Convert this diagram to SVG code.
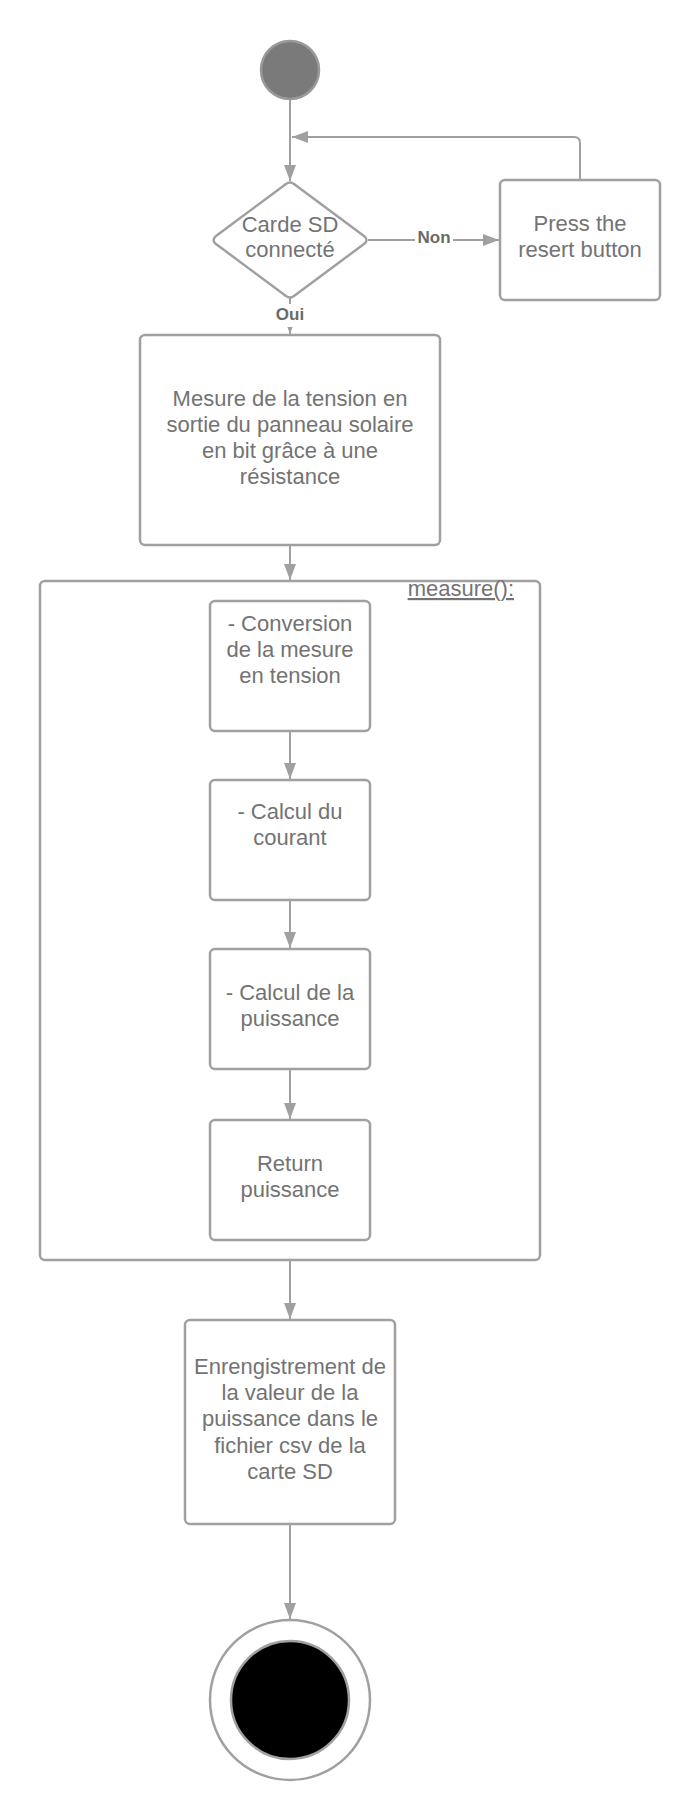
<svg xmlns="http://www.w3.org/2000/svg" width="700" height="1820" viewBox="0 0 700 1820">
<style>
.shape{fill:#ffffff;stroke:#a0a0a0;stroke-width:2.5}
.conn{fill:none;stroke:#a0a0a0;stroke-width:2}
.t{font-family:"Liberation Sans",Arial,sans-serif;font-size:22px;fill:#737373;text-anchor:middle}
.lbl{font-family:"Liberation Sans",Arial,sans-serif;font-size:17px;font-weight:bold;fill:#6a6a6a;text-anchor:middle}
.mask{fill:#ffffff;stroke:none}
</style>
<defs>
<marker id="arr" markerUnits="userSpaceOnUse" markerWidth="16" markerHeight="12" refX="16" refY="6" orient="auto">
<path d="M0,0 L16,6 L0,12 z" fill="#a0a0a0"/>
</marker>
</defs>
<rect width="700" height="1820" fill="#ffffff"/>

<g id="container">
<rect class="shape" x="40" y="581" width="500" height="679" rx="5"/>
<text class="t" x="514" y="596" style="text-anchor:end;text-decoration:underline">measure():</text>
</g>

<g id="connectors">
<path class="conn" d="M290,100 V181" marker-end="url(#arr)"/>
<path class="conn" d="M368,240 H499" marker-end="url(#arr)"/>
<path class="conn" d="M580,180 V143 Q580,137 574,137 H292" marker-end="url(#arr)"/>
<path class="conn" d="M290,298 V334" marker-end="url(#arr)"/>
<path class="conn" d="M290,545 V580" marker-end="url(#arr)"/>
<path class="conn" d="M290,731 V779" marker-end="url(#arr)"/>
<path class="conn" d="M290,900 V948" marker-end="url(#arr)"/>
<path class="conn" d="M290,1069 V1119" marker-end="url(#arr)"/>
<path class="conn" d="M290,1260 V1319" marker-end="url(#arr)"/>
<path class="conn" d="M290,1524 V1619" marker-end="url(#arr)"/>
<rect class="mask" x="415" y="228" width="38" height="22"/>
<text class="lbl" x="434" y="243">Non</text>
<rect class="mask" x="274" y="304" width="32" height="23"/>
<text class="lbl" x="290" y="320">Oui</text>
</g>

<g id="start">
<circle cx="290" cy="70" r="29" fill="#7a7a7a" stroke="#999999" stroke-width="2.5"/>
</g>

<g id="decision">
<path class="shape" d="M286,184 Q290,181 294,184 L364,236 Q369,240 364,244 L294,296 Q290,299 286,296 L216,244 Q211,240 216,236 Z"/>
<text class="t" x="290" y="232">Carde SD</text>
<text class="t" x="290" y="257">connecté</text>
</g>

<g id="reset">
<rect class="shape" x="500" y="180" width="160" height="120" rx="5"/>
<text class="t" x="580" y="231">Press the</text>
<text class="t" x="580" y="257">resert button</text>
</g>

<g id="mesure">
<rect class="shape" x="140" y="335" width="300" height="210" rx="5"/>
<text class="t" x="290" y="406">Mesure de la tension en</text>
<text class="t" x="290" y="432">sortie du panneau solaire</text>
<text class="t" x="290" y="458">en bit grâce à une</text>
<text class="t" x="290" y="484">résistance</text>
</g>

<g id="conversion">
<rect class="shape" x="210" y="601" width="160" height="130" rx="5"/>
<text class="t" x="290" y="631">- Conversion</text>
<text class="t" x="290" y="657">de la mesure</text>
<text class="t" x="290" y="683">en tension</text>
</g>

<g id="courant">
<rect class="shape" x="210" y="780" width="160" height="120" rx="5"/>
<text class="t" x="290" y="819">- Calcul du</text>
<text class="t" x="290" y="845">courant</text>
</g>

<g id="puissance">
<rect class="shape" x="210" y="949" width="160" height="120" rx="5"/>
<text class="t" x="290" y="1000">- Calcul de la</text>
<text class="t" x="290" y="1026">puissance</text>
</g>

<g id="return">
<rect class="shape" x="210" y="1120" width="160" height="120" rx="5"/>
<text class="t" x="290" y="1171">Return</text>
<text class="t" x="290" y="1197">puissance</text>
</g>

<g id="enregistrement">
<rect class="shape" x="185" y="1320" width="210" height="204" rx="5"/>
<text class="t" x="290" y="1374">Enrengistrement de</text>
<text class="t" x="290" y="1400">la valeur de la</text>
<text class="t" x="290" y="1426">puissance dans le</text>
<text class="t" x="290" y="1453">fichier csv de la</text>
<text class="t" x="290" y="1479">carte SD</text>
</g>

<g id="end">
<circle cx="290" cy="1700" r="80" fill="#ffffff" stroke="#a0a0a0" stroke-width="2.5"/>
<circle cx="290" cy="1700" r="59" fill="#000000" stroke="#a0a0a0" stroke-width="2.5"/>
</g>
</svg>
